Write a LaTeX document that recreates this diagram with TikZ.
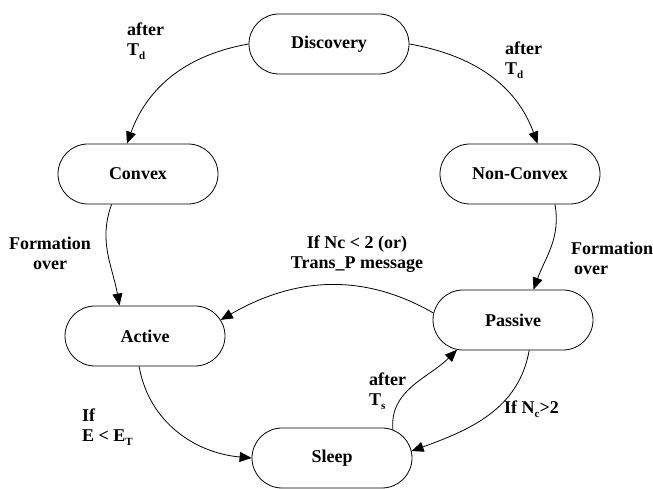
\documentclass[tikz,border=0pt]{standalone}
\usepackage{fontspec}
\setmainfont{Liberation Serif}
\usetikzlibrary{shapes.misc,arrows.meta}
\newcommand\lsub[1]{\raisebox{-0.45ex}{\fontsize{11}{11}\selectfont #1}}
\begin{document}
\begin{tikzpicture}[x=1pt,y=1pt,
  state/.style={draw, rounded rectangle, minimum width=160pt, minimum height=60pt, inner sep=0pt, line width=0.8pt, font=\fontsize{18}{20}\selectfont\bfseries},
  lbl/.style={inner sep=0pt, align=left, font=\fontsize{18}{20}\selectfont\bfseries},
  tr/.style={-{Triangle[length=12pt,width=10pt]}, line width=0.8pt}]
\useasboundingbox (0,0) rectangle (653,489);
\node[state] (disc) at (329,445) {Discovery};
\node[state] (conv) at (138,315) {Convex};
\node[state] (nonc) at (520,315) {Non-Convex};
\node[state] (act) at (145,153) {Active};
\node[state] (pass) at (513,169) {Passive};
\node[state] (sleep) at (332,31) {Sleep};

\draw[tr] (disc.west) to[out=190,in=70] (conv.110);
\draw[tr] (disc.east) to[out=-10,in=110] (nonc.60);
\draw[tr] (conv.229) to[out=250,in=100] (act.130);
\draw[tr] (nonc.319) to[out=-80,in=70] (pass.56);
\draw[tr] (pass.175) to[out=150,in=30] (act.12);
\draw[tr] (act.259) to[out=-80,in=175] (sleep.west);
\draw[tr] (pass.298) to[out=-100,in=20] (sleep.5);
\draw[tr] (sleep.25) to[out=95,in=225] (pass.208);

\node[lbl, anchor=west] (l1) at (127,448) {after\\T\lsub{d}};
\node[lbl, anchor=west] (l2) at (505,429) {after\\T\lsub{d}};
\node[lbl, align=center] (l3) at (50,236) {Formation\\over};
\node[lbl, anchor=west] (l4) at (571,231) {Formation\\\hspace{3pt}over};
\node[lbl, align=center] (l5) at (357,235) {If Nc < 2 (or)\\Trans\_P message};
\node[lbl, anchor=west] (l6) at (82,62) {If\\E < E\lsub{T}};
\node[lbl, anchor=west] (l7) at (369,98) {after\\T\lsub{s}};
\node[lbl, anchor=west] (l8) at (504,80) {If N\lsub{c}>2};
\end{tikzpicture}
\end{document}
